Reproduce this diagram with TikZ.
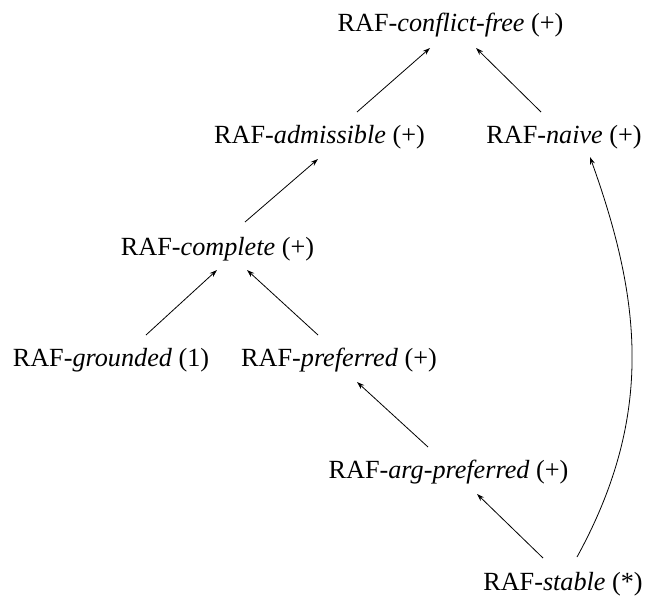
\documentclass[tikz,border=0pt]{standalone}
\usepackage{fontspec}
\setmainfont{Liberation Serif}
\usetikzlibrary{arrows.meta,calc}
\begin{document}
\begin{tikzpicture}[x=1pt,y=-1pt,
  lab/.style={inner sep=0pt,anchor=base,font=\fontsize{26.2}{30}\selectfont},
  arr/.style={-{Stealth[length=7.5pt,width=5pt]},line width=0.8pt}]
\useasboundingbox (0,0) rectangle (647,604);
\node[lab] (cf) at (450.5,32) {RAF-\textit{conflict-free} (+)};
\node[lab] (adm) at (319.5,143.6) {RAF-\textit{admissible} (+)};
\node[lab] (nai) at (564,143.6) {RAF-\textit{naive} (+)};
\node[lab] (com) at (217.5,255.2) {RAF-\textit{complete} (+)};
\node[lab] (gro) at (111,366.8) {RAF-\textit{grounded} (1)};
\node[lab] (pre) at (339,366.8) {RAF-\textit{preferred} (+)};
\node[lab] (apr) at (448.5,478.4) {RAF-\textit{arg-preferred} (+)};
\node[lab] (sta) at (563,590) {RAF-\textit{stable} (*)};
\draw[arr] ($(adm.base)+(37.5,-31.6)$) -- ($(cf.base)+(-20.5,16)$);
\draw[arr] ($(nai.base)+(-23,-31.6)$) -- ($(cf.base)+(25.5,16)$);
\draw[arr] ($(com.base)+(27.5,-33.2)$) -- ($(adm.base)+(-1.5,15.4)$);
\draw[arr] ($(gro.base)+(35,-31.8)$) -- ($(com.base)+(-0.5,14.8)$);
\draw[arr] ($(pre.base)+(-21,-31.8)$) -- ($(com.base)+(29.5,14.8)$);
\draw[arr] ($(apr.base)+(-20.5,-31.4)$) -- ($(pre.base)+(18,15.2)$);
\draw[arr] ($(sta.base)+(-20,-32)$) -- ($(apr.base)+(28.5,15.6)$);
\draw[arr] ($(sta.base)+(14,-33)$) .. controls ($(sta.base)+(92,-175)$) and ($(nai.base)+(77,155.4)$) .. ($(nai.base)+(26,13.4)$);
\end{tikzpicture}
\end{document}
